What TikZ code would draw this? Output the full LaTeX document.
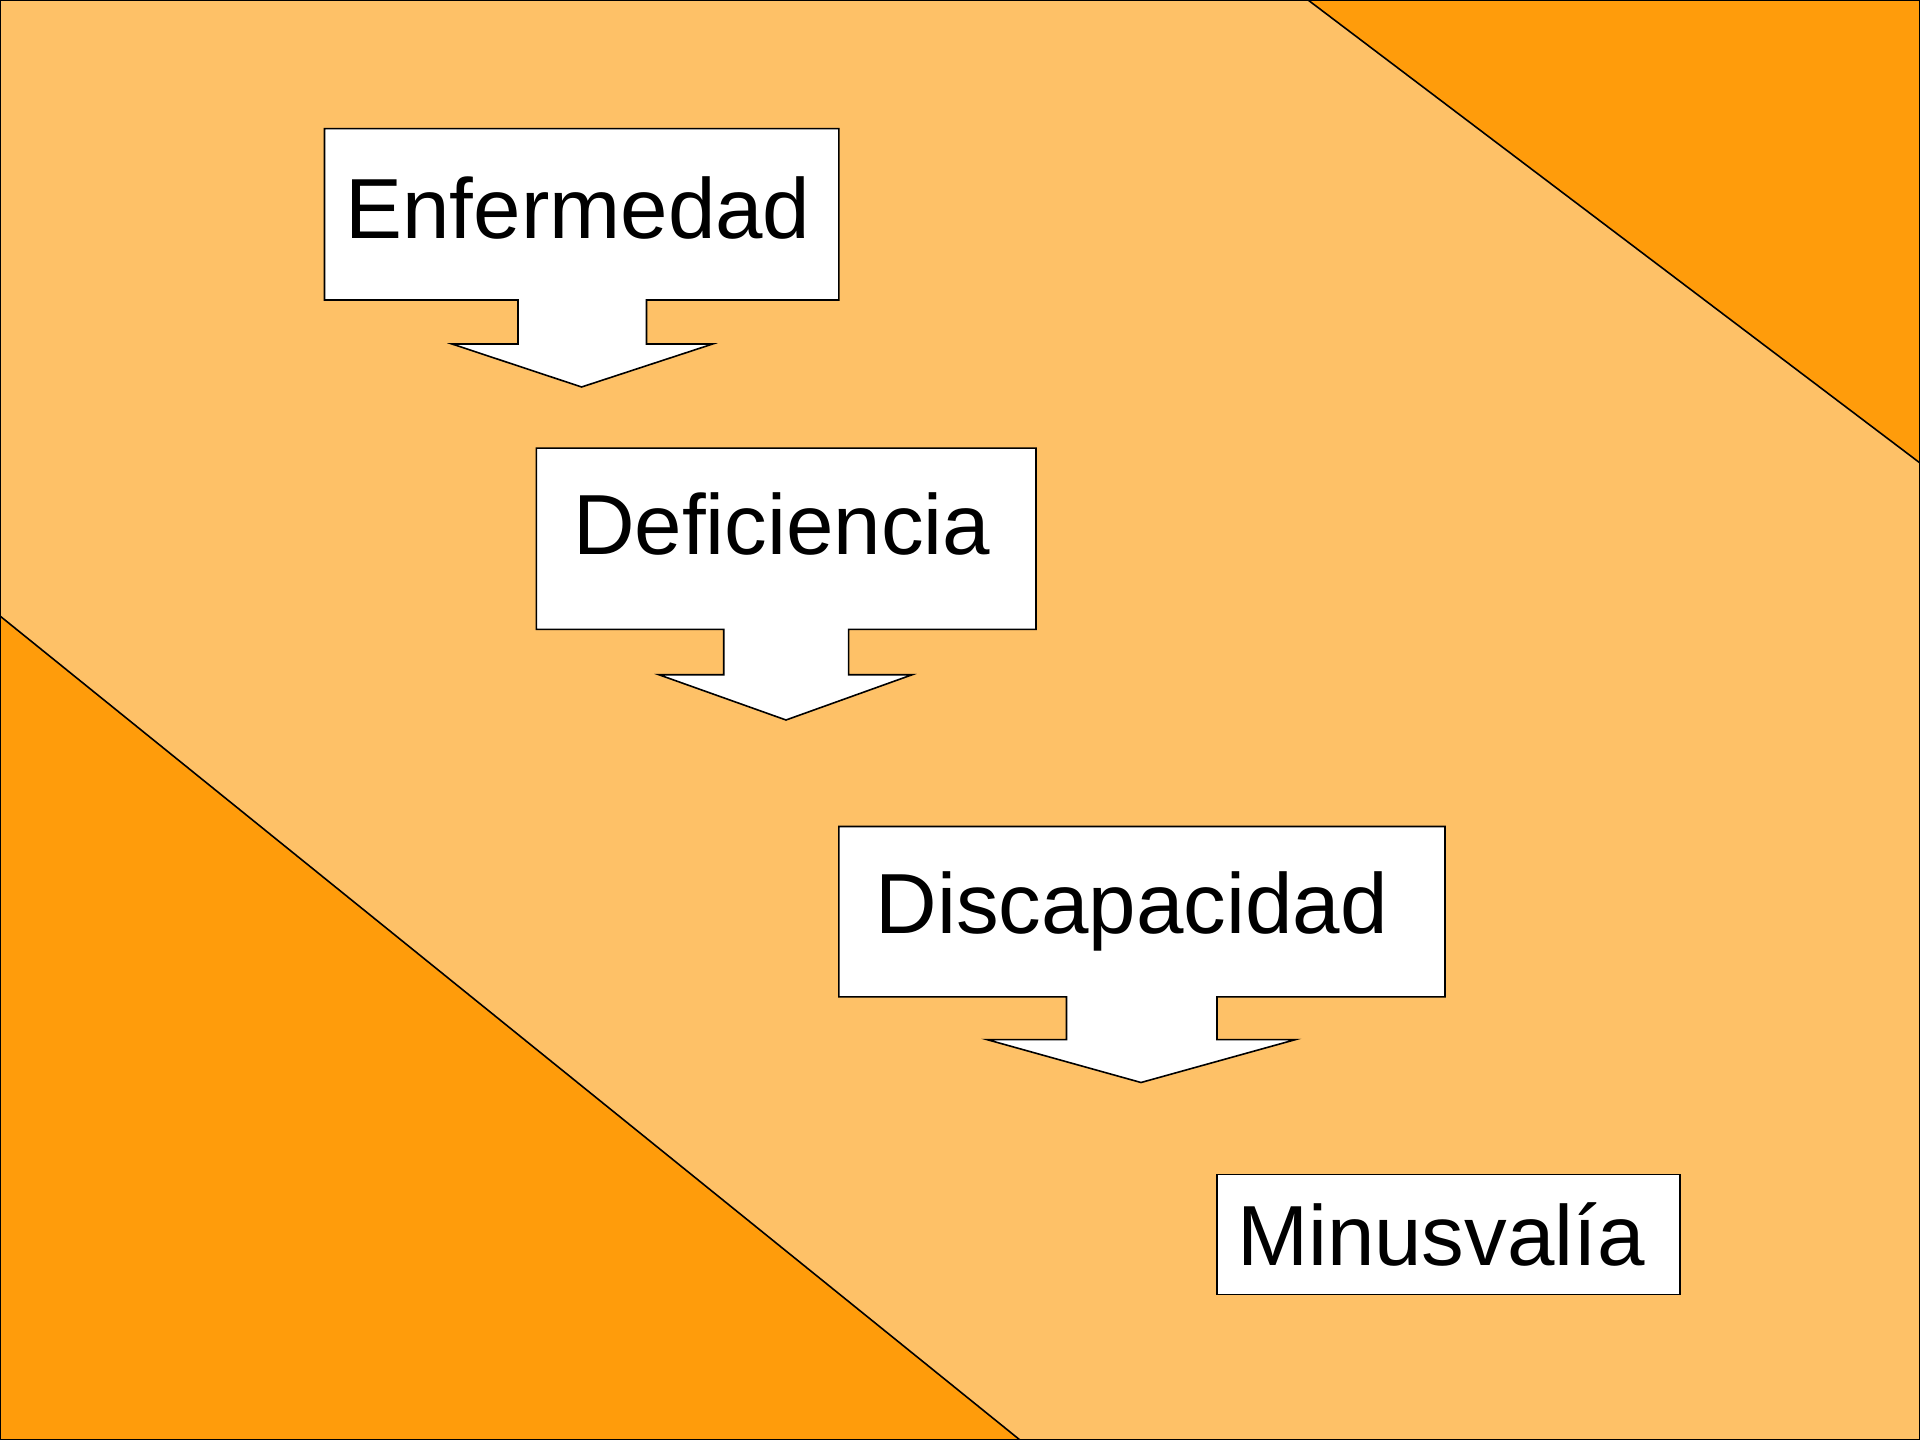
\documentclass[tikz,border=0pt]{standalone}
\usepackage{fontspec}
\setmainfont{Liberation Sans}
\definecolor{bglight}{HTML}{FEC167}
\definecolor{bgdark}{HTML}{FF9C0B}
\begin{document}
\begin{tikzpicture}[x=0.375pt,y=-0.375pt,
  callout/.style={draw=black,fill=white,line width=0.6pt,line join=miter},
  corner/.style={draw=black,fill=bgdark,line width=0.6pt},
  lbl/.style={anchor=base west,inner sep=0pt,font=\fontsize{32}{38}\selectfont}]
\useasboundingbox (0,0) rectangle (1920,1440);
\fill[bglight] (0,0) rectangle (1920,1440);
% corner triangles
\draw[corner] (1308,0) -- (1920,0) -- (1920,463) -- cycle;
\draw[corner] (0,616) -- (1020,1440) -- (0,1440) -- cycle;
% Enfermedad callout
\draw[callout] (324.5,128.6) -- (838.8,128.6) -- (838.8,300) -- (646.5,300) -- (646.5,344)
  -- (712.7,344) -- (581.6,387) -- (452,344) -- (518,344) -- (518,300) -- (324.5,300) -- cycle;
\node[lbl] (enf) at (345,238.8) {Enfermedad};
% Deficiencia callout
\draw[callout] (536.3,448.2) -- (1036,448.2) -- (1036,629.4) -- (848.6,629.4) -- (848.6,674.7)
  -- (912.3,674.7) -- (786,720) -- (658.8,674.7) -- (723.7,674.7) -- (723.7,629.4) -- (536.3,629.4) -- cycle;
\node[lbl] (def) at (572.5,554.7) {Deficiencia};
% Discapacidad callout
\draw[callout] (838.8,826.5) -- (1445,826.5) -- (1445,996.8) -- (1217,996.8) -- (1217,1039.6)
  -- (1295.5,1039.6) -- (1141,1082.5) -- (987,1039.6) -- (1066.5,1039.6) -- (1066.5,996.8) -- (838.8,996.8) -- cycle;
\node[lbl] (dis) at (875,933) {Discapacidad};
% Minusvalia box
\draw[callout] (1217,1174.3) rectangle (1680,1294.3);
\node[lbl] (min) at (1236.5,1265) {Minusvalía};
% frame
\draw[black,line width=1pt] (0,0) rectangle (1920,1440);
\end{tikzpicture}
\end{document}
